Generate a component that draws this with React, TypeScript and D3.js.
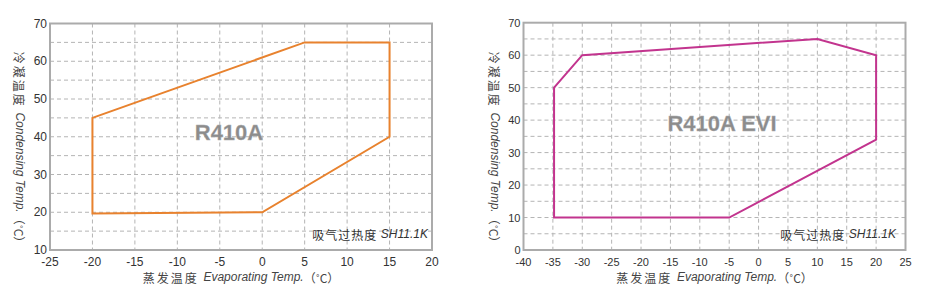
import React from "react";
import * as d3 from "d3";

const leftX = [-20, 5, 15, 15, 0, -20];
const leftY = [45, 65, 65, 40, 20, 19.7];
const rightX = [-34.8, -30, 10, 20, 20, -5, -34.8];
const rightY = [50, 60, 65, 60, 34, 10, 10];

const leftXTicks = [-25, -20, -15, -10, -5, 0, 5, 10, 15, 20];
const leftYTicks = [10, 20, 30, 40, 50, 60, 70];
const rightXTicks = [-40, -35, -30, -25, -20, -15, -10, -5, 0, 5, 10, 15, 20, 25];
const rightYTicks = [0, 10, 20, 30, 40, 50, 60, 70];

type ChartProps = {
  xs: number[]; ys: number[];
  xDomain: [number, number]; yDomain: [number, number];
  xTicks: number[]; yTicks: number[];
  x0: number; x1: number; y0: number; y1: number;
  color: string; label: string; labelX: number; labelY: number;
  tickFont: number; titleX: number; shX: number;
};

function Chart(p: ChartProps) {
  const x = d3.scaleLinear().domain(p.xDomain).range([p.x0, p.x1]);
  const y = d3.scaleLinear().domain(p.yDomain).range([p.y1, p.y0]);
  const pts: [number, number][] = p.xs.map((v, i) => [x(v), y(p.ys[i])]);
  const line = d3.line()(pts) + "Z";
  const yGrid = d3.range(p.yDomain[0] + 5, p.yDomain[1], 5);
  const xGrid = p.xTicks.slice(1, -1);
  const cx = (p.x0 + p.x1) / 2;
  return (
    <g>
      {yGrid.map((v) => (
        <line key={"gy" + v} x1={p.x0} x2={p.x1} y1={y(v)} y2={y(v)} stroke="#b4b4b4" strokeDasharray="4,3" strokeWidth={1} />
      ))}
      {xGrid.map((v) => (
        <line key={"gx" + v} x1={x(v)} x2={x(v)} y1={p.y0} y2={p.y1} stroke="#b4b4b4" strokeDasharray="4,3" strokeWidth={1} />
      ))}
      <rect x={p.x0} y={p.y0} width={p.x1 - p.x0} height={p.y1 - p.y0} fill="none" stroke="#ababab" strokeWidth={2} />
      <text x={p.labelX} y={p.labelY} textAnchor="middle" dominantBaseline="central" fontFamily="Liberation Sans, Arial, sans-serif" fontWeight="bold" fontSize={22} fill="#8c8c8c" stroke="#b0b0b0" strokeWidth={0.3}>{p.label}</text>
      <path d={line} fill="none" stroke={p.color} strokeWidth={2} strokeLinejoin="miter" />
      {p.yTicks.map((v) => (
        <text key={"ty" + v} x={p.x0 - 3} y={y(v)} textAnchor="end" dominantBaseline="central" fontFamily="Liberation Sans, Arial, sans-serif" fontSize={p.tickFont} fill="#333">{v}</text>
      ))}
      {p.xTicks.map((v) => (
        <text key={"tx" + v} x={x(v)} y={p.y1 + 12} textAnchor="middle" dominantBaseline="central" fontFamily="Liberation Sans, Arial, sans-serif" fontSize={p.tickFont} fill="#333">{v}</text>
      ))}
      <text x={p.shX} y={p.y1 - 16} textAnchor="end" dominantBaseline="central" fontFamily="Liberation Sans, Arial, sans-serif" fontSize={12} fill="#333">
        <tspan fontFamily="Noto Sans CJK SC" letterSpacing={1}>吸气过热度 </tspan>
        <tspan fontStyle="italic">SH11.1K</tspan>
      </text>
      <text x={cx} y={277} textAnchor="middle" dominantBaseline="central" fontFamily="Liberation Sans, Arial, sans-serif" fontSize={12} fill="#444">
        <tspan fontFamily="Noto Sans CJK SC" letterSpacing={2}>蒸发温度 </tspan>
        <tspan fontStyle="italic"> Evaporating Temp.</tspan>
        <tspan fontFamily="Noto Sans CJK SC">（˚C）</tspan>
      </text>
      <text transform={`translate(${p.titleX},150) rotate(90)`} textAnchor="middle" dominantBaseline="central" fontFamily="Liberation Sans, Arial, sans-serif" fontSize={12} fill="#444">
        <tspan fontFamily="Noto Sans CJK SC" letterSpacing={2}>冷凝温度 </tspan>
        <tspan fontStyle="italic">Condensing Temp.</tspan>
        <tspan fontFamily="Noto Sans CJK SC">（˚C）</tspan>
      </text>
    </g>
  );
}

export default function App() {
  return (
    <svg width={931} height={301} style={{ position: "absolute", left: 0, top: 0, background: "#fff" }}>
      <Chart xs={leftX} ys={leftY} xDomain={[-25, 20]} yDomain={[10, 70]}
        xTicks={leftXTicks} yTicks={leftYTicks} x0={50} x1={432} y0={23.5} y1={250}
        color="#e8822e" label="R410A" labelX={229} labelY={132} tickFont={12} titleX={20} shX={428} />
      <Chart xs={rightX} ys={rightY} xDomain={[-40, 25]} yDomain={[0, 70]}
        xTicks={rightXTicks} yTicks={rightYTicks} x0={523.5} x1={905.5} y0={22.7} y1={250}
        color="#c2348e" label="R410A EVI" labelX={722} labelY={123} tickFont={11} titleX={495} shX={896} />
    </svg>
  );
}
